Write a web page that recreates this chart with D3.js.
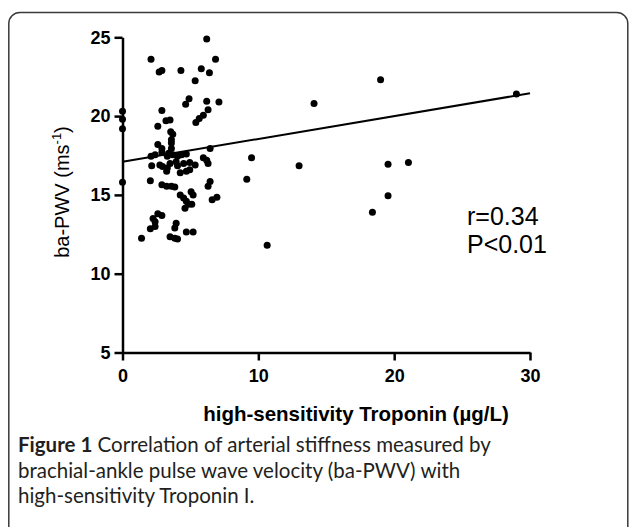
<!DOCTYPE html>
<meta charset="utf-8">
<style>
  body { margin: 0; background: #fff; }
  svg { display: block; }
  .axis path, .axis line { stroke: #000; stroke-width: 2.5; }
  .axis text { font-family: "Liberation Sans", Arial, sans-serif; font-weight: bold; font-size: 18px; fill: #000; }
  .lbl { font-family: "Liberation Sans", Arial, sans-serif; fill: #000; }
  .cap { font-family: Lato, "Open Sans", sans-serif; font-size: 20.5px; fill: #231f20; }
</style>
<body>
<svg id="chart" width="629" height="527"></svg>
<script src="https://d3js.org/d3.v7.min.js"></script>
<script>
// hs-Troponin (ug/L) vs ba-PWV (ms-1)
var troponin = [0, 0, 0, 0, 2.1, 2.7, 2.9, 4.3, 5.8, 6.4, 6.2, 6.85, 5.35, 4.9, 4.65, 6.2, 7.1, 6.3, 2.9, 5.95,
  5.65, 5.4, 3.5, 3.2, 2.6, 3.55, 3.7, 3.6, 2.6, 2.9, 3.6, 3.6, 2.4, 2.9, 3.4, 3.7, 4.05, 4.35, 4.7, 6.45,
  2.15, 2.75, 3.5, 3.95, 4.5, 4.95, 5.35, 6.2, 6.3, 3.25, 4.25, 4.7, 2.05, 2.9, 3.25, 3.6, 3.85, 4.25, 4.5, 4.7,
  5.05, 5.2, 6.45, 6.3, 6.6, 6.95, 4.85, 5.1, 4.6, 2.25, 2.6, 2.9, 2.4, 2.05, 2.4, 1.4, 3.5, 3.85, 4.05, 3.95,
  3.85, 4.7, 5.2, 2.1, 2.95, 3.3, 3.3, 5.95, 4.95, 4.05, 9.15, 9.5, 13.0, 10.65, 19.55, 21.05, 19.55, 18.4, 14.1, 19.0,
  29.0];
var pwv = [20.3, 19.8, 19.2, 15.8, 23.6, 22.8, 22.9, 22.9, 23.0, 22.75, 24.9, 23.6, 22.25, 21.1, 20.75, 20.95, 20.9, 20.4, 20.35, 20.05,
  19.85, 19.6, 19.75, 19.7, 19.35, 19.0, 18.85, 18.5, 18.2, 17.95, 18.3, 17.95, 17.55, 17.7, 17.65, 17.55, 17.45, 17.55, 17.6, 17.95,
  16.85, 16.9, 17.0, 17.1, 17.0, 17.05, 16.9, 17.2, 17.0, 16.5, 16.4, 16.5, 15.9, 15.65, 15.55, 15.55, 15.5, 15.0, 14.8, 14.6,
  15.2, 15.0, 15.85, 15.55, 14.7, 14.85, 14.4, 14.4, 14.15, 13.5, 13.8, 13.7, 13.3, 12.85, 13.0, 12.25, 12.35, 12.25, 12.2, 13.2,
  12.9, 12.65, 12.65, 17.45, 16.8, 16.7, 17.45, 17.35, 16.6, 16.85, 16.0, 17.35, 16.85, 11.8, 16.95, 17.05, 14.95, 13.9, 20.8, 22.3,
  21.4];

var xTicks = [0, 10, 20, 30];
var yTicks = [5, 10, 15, 20, 25];
var fitX = [0, 30];
var fitY = [17.1, 21.45];
var stats = ["r=0.34", "P<0.01"];
var caption = [
  ["Figure 1", " Correlation of arterial stiffness measured by"],
  ["", "brachial-ankle pulse wave velocity (ba-PWV) with"],
  ["", "high-sensitivity Troponin I."]
];

var svg = d3.select("#chart");

// rounded frame, runs off the bottom of the picture
svg.append("rect")
  .attr("x", 8.8).attr("y", 12.5)
  .attr("width", 619).attr("height", 620)
  .attr("rx", 11)
  .attr("fill", "none").attr("stroke", "#3a3a3a").attr("stroke-width", 1.5);

var x = d3.scaleLinear().domain([0, 30]).range([122.5, 530]),
  y = d3.scaleLinear().domain([5, 25]).range([352.5, 37.3]);

svg.append("g").attr("class", "axis")
  .attr("transform", "translate(0," + y(5) + ")")
  .call(d3.axisBottom(x).tickValues(xTicks).tickSize(8).tickSizeOuter(0).tickPadding(9));
svg.append("g").attr("class", "axis")
  .attr("transform", "translate(" + x(0) + ",0)")
  .call(d3.axisLeft(y).tickValues(yTicks).tickSize(8).tickSizeOuter(0).tickPadding(4));
svg.selectAll(".axis").attr("font-size", null).attr("font-family", null);

// regression line
svg.append("line")
  .attr("x1", x(fitX[0])).attr("y1", y(fitY[0]))
  .attr("x2", x(fitX[1])).attr("y2", y(fitY[1]))
  .attr("stroke", "#000").attr("stroke-width", 2);

svg.append("g").selectAll("circle")
  .data(troponin)
  .enter().append("circle")
  .attr("cx", function (d) { return x(d); })
  .attr("cy", function (d, i) { return y(pwv[i]); })
  .attr("r", 3.5)
  .attr("fill", "#000");

// r / P text
svg.selectAll(".stat").data(stats).enter().append("text")
  .attr("class", "lbl stat")
  .attr("x", 467).attr("y", function (d, i) { return 225 + i * 28; })
  .attr("font-size", 25)
  .text(function (d) { return d; });

// axis titles
svg.append("text").attr("class", "lbl")
  .attr("x", 356).attr("y", 421)
  .attr("text-anchor", "middle")
  .attr("font-size", 20.5).attr("font-weight", "bold")
  .text("high-sensitivity Troponin (\u00b5g/L)");

var yl = svg.append("text").attr("class", "lbl")
  .attr("transform", "translate(69,192) rotate(-90)")
  .attr("text-anchor", "middle")
  .attr("font-size", 20);
yl.append("tspan").text("ba-PWV (ms");
yl.append("tspan").attr("dy", -8).attr("font-size", 13).text("-1");
yl.append("tspan").attr("dy", 8).text(")");

// caption
var cap = svg.selectAll(".cap").data(caption).enter().append("text")
  .attr("class", "cap")
  .attr("x", 18).attr("y", function (d, i) { return 452 + i * 25.5; });
cap.append("tspan").attr("font-weight", "bold").text(function (d) { return d[0]; });
cap.append("tspan").text(function (d) { return d[1]; });
</script>
</body>
